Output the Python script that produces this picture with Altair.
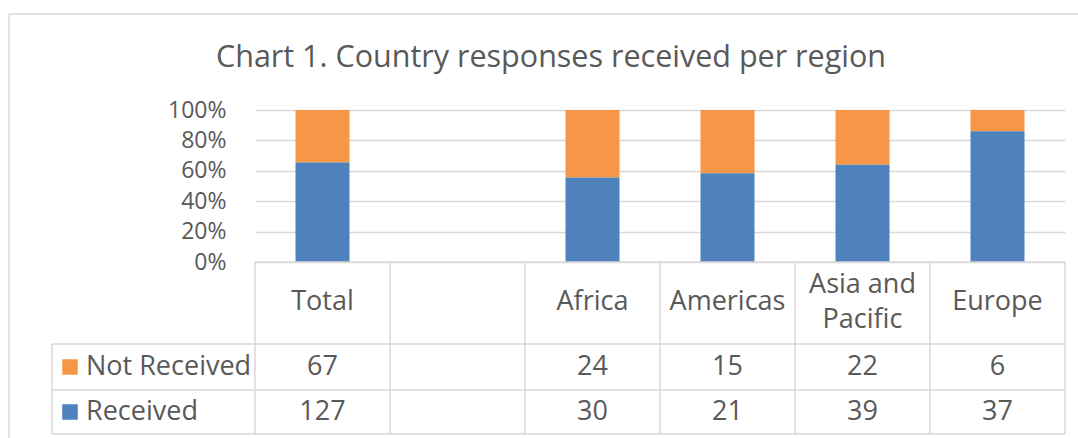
import altair as alt
import pandas as pd

# ---- data ----
categories = ["Total", " ", "Africa", "Americas", "Asia and Pacific", "Europe"]
header_labels = ["Total", "", "Africa", "Americas", "Asia and\nPacific", "Europe"]
not_received = [67, None, 24, 15, 22, 6]
received = [127, None, 30, 21, 39, 37]
series = ["Not Received", "Received"]
colors = ["#F79646", "#4F81BD"]
y_ticks = [0, 0.2, 0.4, 0.6, 0.8, 1.0]
title_text = "Chart 1. Country responses received per region"

rows = []
for i, c in enumerate(categories):
    rows.append({"region": c, "series": "Not Received", "value": not_received[i], "order": 1})
    rows.append({"region": c, "series": "Received", "value": received[i], "order": 0})
long = pd.DataFrame(rows)
cats = pd.DataFrame({"region": categories, "header": header_labels})
one = pd.DataFrame({"t": [title_text]})

FONT = "Open Sans"
TXT = "#595959"
LINE = "#D9D9D9"
W, H = 810, 152
FS = 27
LH = 35

xs = alt.Scale(domain=categories, paddingInner=0, paddingOuter=0)


def X(**kw):
    return alt.X("region:N", scale=xs, axis=None, **kw)


color = alt.Color("series:N", scale=alt.Scale(domain=series, range=colors), legend=None)

border = alt.Chart(one).mark_rect(fill="white", fillOpacity=0, stroke=LINE, strokeWidth=1.3).encode(
    x=alt.value(-246), x2=alt.value(840), y=alt.value(-96), y2=alt.value(360)
)

title = alt.Chart(one).mark_text(font=FONT, fontSize=30.5, color=TXT, baseline="alphabetic").encode(
    x=alt.value(296), y=alt.value(-43), text="t:N"
)

bars = alt.Chart(long).transform_filter("isValid(datum.value)").mark_bar(width={"band": 0.4}).encode(
    x=X(),
    y=alt.Y(
        "value:Q",
        stack="normalize",
        scale=alt.Scale(domain=[0, 1], nice=False),
        axis=alt.Axis(
            values=y_ticks, format=".0%", title=None, domain=False, ticks=False,
            labelPadding=29, labelFontSize=23, labelColor=TXT, labelFont=FONT,
            labelOverlap=False, grid=True, gridColor=LINE, gridWidth=1.3,
        ),
    ),
    color=color,
    order=alt.Order("order:Q"),
)

RULE = dict(color=LINE, strokeWidth=1.5)

vrules = alt.Chart(cats).mark_rule(**RULE).encode(
    x=X(bandPosition=0), y=alt.value(152), y2=alt.value(324)
)
vrule_end = alt.Chart(cats).transform_filter(
    alt.datum.region == categories[-1]
).mark_rule(**RULE).encode(x=X(bandPosition=1), y=alt.value(152), y2=alt.value(324))
vrule_legend = alt.Chart(one).mark_rule(**RULE).encode(
    x=alt.value(-203), y=alt.value(234), y2=alt.value(324)
)


def hrule(yv, x0):
    return alt.Chart(one).mark_rule(**RULE).encode(
        x=alt.value(x0), x2=alt.value(W), y=alt.value(yv)
    )


hrules = [hrule(152, 0), hrule(234, -203), hrule(280, -203), hrule(324, -203)]

TEXT = dict(font=FONT, fontSize=FS, color=TXT, baseline="middle")

header_one = alt.Chart(cats).transform_filter(
    "indexof(datum.header, '\\n') < 0"
).mark_text(**TEXT).encode(x=X(), y=alt.value(192), text="header:N")
header_two = alt.Chart(cats).transform_filter(
    "indexof(datum.header, '\\n') >= 0"
).mark_text(lineBreak="\n", lineHeight=LH, **TEXT).encode(
    x=X(), y=alt.value(192 - LH / 2), text="header:N"
)

row_layers = []
for s, yc in zip(series, [257, 302]):
    vals = alt.Chart(long).transform_filter(
        f"datum.series == '{s}' && isValid(datum.value)"
    ).mark_text(**TEXT).encode(
        x=X(), y=alt.value(yc), text=alt.Text("value:Q", format="d")
    )
    sdf = pd.DataFrame({"series": [s]})
    sq = alt.Chart(sdf).mark_square(size=240, opacity=1).encode(
        x=alt.value(-185), y=alt.value(yc), color=color
    )
    lab = alt.Chart(sdf).mark_text(align="left", **TEXT).encode(
        x=alt.value(-169), y=alt.value(yc), text="series:N"
    )
    row_layers += [vals, sq, lab]

chart = alt.layer(
    border, title, bars, *hrules, vrules, vrule_end, vrule_legend,
    header_one, header_two, *row_layers
).properties(
    width=W,
    height=H,
    autosize=alt.AutoSizeParams(type="none"),
    padding={"left": 255, "top": 110, "right": 13, "bottom": 176},
).configure_view(strokeWidth=0)

chart.save("out.html", embed_options={"renderer": "svg", "actions": False})
